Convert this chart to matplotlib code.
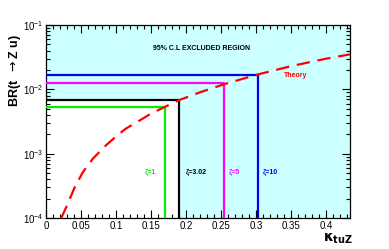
import matplotlib
matplotlib.use('Agg')
import matplotlib.pyplot as plt
from matplotlib.ticker import MultipleLocator, LogLocator, NullFormatter

plt.rcParams['font.family'] = ['Liberation Sans', 'DejaVu Sans']

# theory curve
kappa_theory = [0.022, 0.031, 0.0405, 0.0524, 0.0667, 0.0857, 0.10, 0.114, 0.13, 0.15, 0.17,
                0.19, 0.22, 0.254, 0.28, 0.302, 0.35, 0.40, 0.434]
br_theory = [1.0e-4, 1.65e-4, 2.9e-4, 5.1e-4, 8.3e-4, 1.35e-3, 1.85e-3, 2.45e-3, 3.1e-3, 4.2e-3, 5.35e-3,
             6.8e-3, 9.0e-3, 1.2e-2, 1.45e-2, 1.7e-2, 2.3e-2, 3.0e-2, 3.5e-2]

# limits for each zeta
zeta_labels = ['ζ=1', 'ζ=3.02', 'ζ=5', 'ζ=10']
zeta_kappa = [0.17, 0.19, 0.254, 0.302]
zeta_br = [5.35e-3, 6.8e-3, 1.24e-2, 1.70e-2]
zeta_colors = ['#00ee00', 'black', '#ff00ff', '#0000ee']
zeta_label_x = [0.141, 0.199, 0.261, 0.31]

x_ticks = [0, 0.05, 0.1, 0.15, 0.2, 0.25, 0.3, 0.35, 0.4]
x_ticklabels = ['0', '0.05', '0.1', '0.15', '0.2', '0.25', '0.3', '0.35', '0.4']

fig = plt.figure(figsize=(3.89, 2.49), dpi=100)
ax = fig.add_axes([0.118, 0.1245, 0.782, 0.775])
ax.set_xlim(0, 0.434)
ax.set_ylim(1e-4, 1e-1)
ax.set_yscale('log')
ax.set_facecolor('#ccffff')

# white (allowed) region below the observed limit
ax.fill_between([0, zeta_kappa[1]], 1e-4, zeta_br[1], color='white', zorder=1)

for k, b, c in zip(zeta_kappa, zeta_br, zeta_colors):
    ax.plot([0, k, k], [b, b, 1e-4], color=c, lw=1.6, zorder=3)

ax.plot(kappa_theory, br_theory, color='red', lw=1.6, dashes=(6, 3.5), zorder=4)

for lab, lx, c in zip(zeta_labels, zeta_label_x, zeta_colors):
    ax.text(lx, 5.3e-4, lab, color=c, fontsize=5, fontweight='bold', va='center')

ax.text(0.222, 4.3e-2, '95% C.L EXCLUDED REGION', fontsize=5, fontweight='bold', ha='center', va='center')
ax.text(0.339, 1.65e-2, 'Theory', color='red', fontsize=5, fontweight='bold', va='center')

ax.set_xticks(x_ticks)
ax.set_xticklabels(x_ticklabels)
ax.xaxis.set_minor_locator(MultipleLocator(0.01))
ax.yaxis.set_major_locator(LogLocator(base=10, numticks=10))
ax.yaxis.set_minor_locator(LogLocator(base=10, subs=range(2, 10), numticks=10))
ax.yaxis.set_minor_formatter(NullFormatter())
ax.tick_params(which='both', direction='in', top=True, right=True, labelsize=7, width=0.8, pad=2)
ax.tick_params(which='major', length=6)
ax.tick_params(which='minor', length=3)
for s in ax.spines.values():
    s.set_linewidth(0.9)

ax.set_ylabel('BR(t  $\\rightarrow$Z u)', fontsize=9, fontweight='bold', labelpad=2)
ax.yaxis.set_label_coords(-0.075, 0.765)
fig.text(0.83, 0.03, '$\\mathbf{\\kappa}_{\\mathbf{tuZ}}$', fontsize=10)

fig.savefig('out.png', dpi=100)
